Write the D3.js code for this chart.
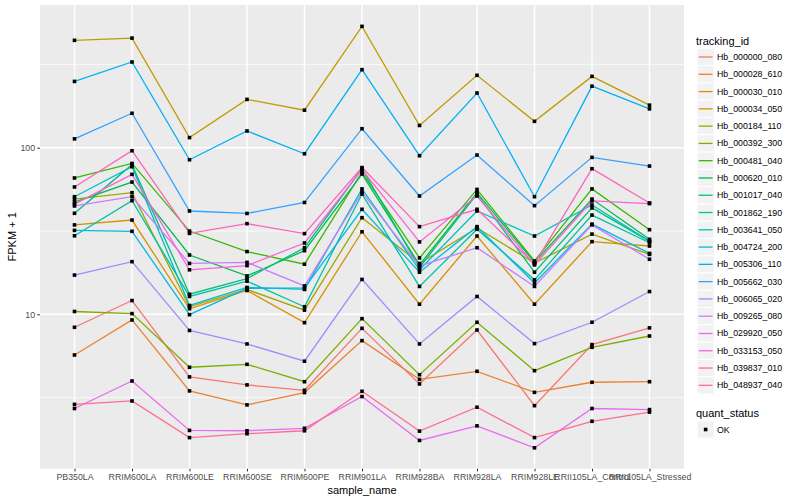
<!DOCTYPE html>
<html>
<head>
<meta charset="utf-8">
<script src="https://cdn.jsdelivr.net/npm/d3@7"></script>
<style>
  body { margin: 0; background: #fff; }
  svg { display: block; font-family: "Liberation Sans", Arial, sans-serif; }
</style>
</head>
<body>
<svg id="chart"></svg>
<script>
const categories = ["PB350LA", "RRIM600LA", "RRIM600LE", "RRIM600SE", "RRIM600PE", "RRIM901LA",
  "RRIM928BA", "RRIM928LA", "RRIM928LE", "RRII105LA_Control", "RRII105LA_Stressed"]

const trackingIds = ["Hb_000000_080", "Hb_000028_610", "Hb_000030_010", "Hb_000034_050", "Hb_000184_110",
  "Hb_000392_300", "Hb_000481_040", "Hb_000620_010", "Hb_001017_040", "Hb_001862_190",
  "Hb_003641_050", "Hb_004724_200", "Hb_005306_110", "Hb_005662_030", "Hb_006065_020",
  "Hb_009265_080", "Hb_029920_050", "Hb_033153_050", "Hb_039837_010", "Hb_048937_040"]

// FPKM + 1, one row per tracking id (same order), one value per sample
const fpkm = [
  [8.36, 12.1, 4.21, 3.77, 3.50, 8.24, 3.82, 8.05, 2.83, 6.58, 8.29],   // Hb_000000_080
  [5.70, 9.25, 3.47, 2.86, 3.39, 6.95, 4.07, 4.55, 3.40, 3.91, 3.94],   // Hb_000028_610
  [34.4, 36.8, 10.8, 13.9, 8.91, 31.3, 11.5, 29.5, 11.5, 27.3, 25.7],   // Hb_000030_010
  [441, 455, 115, 195, 168, 535, 136, 272, 144, 268, 180],              // Hb_000034_050
  [49.2, 53.7, 11.1, 14.1, 10.6, 38.0, 20.2, 33.0, 20.3, 30.3, 22.9],   // Hb_000184_110
  [10.4, 10.1, 4.81, 5.01, 3.94, 9.42, 4.34, 8.96, 4.59, 6.34, 7.41],   // Hb_000392_300
  [65.8, 80.5, 31.6, 23.8, 20.0, 71.4, 21.8, 56.2, 20.9, 56.6, 32.2],   // Hb_000481_040
  [47.2, 62.2, 22.7, 17.0, 24.1, 69.5, 19.8, 53.7, 20.5, 49.2, 28.2],   // Hb_000620_010
  [40.4, 79.1, 13.2, 16.4, 25.1, 75.0, 19.1, 52.7, 17.9, 43.5, 27.4],   // Hb_001017_040
  [29.6, 48.1, 12.8, 15.8, 11.1, 52.7, 14.7, 32.4, 16.1, 39.4, 26.9],   // Hb_001862_190
  [50.8, 76.9, 11.3, 14.5, 14.1, 56.6, 18.5, 41.7, 29.5, 45.3, 27.5],   // Hb_003641_050
  [31.9, 31.5, 9.95, 14.3, 14.4, 42.7, 17.9, 33.6, 15.4, 34.8, 23.2],   // Hb_004724_200
  [250, 327, 84.7, 126, 92, 294, 89.5, 213, 50.8, 234, 171],            // Hb_005306_110
  [113, 161, 41.7, 40.3, 46.9, 130, 51.3, 90.4, 44.9, 87.5, 77.6],      // Hb_005662_030
  [17.2, 20.7, 8.0, 6.64, 5.23, 16.2, 6.64, 12.8, 6.67, 8.96, 13.7],    // Hb_006065_020
  [44.7, 50.8, 20.2, 20.5, 14.8, 54.2, 19.5, 25.1, 14.7, 34.4, 21.4],   // Hb_009265_080
  [2.72, 3.98, 2.01, 2.00, 2.07, 3.21, 1.75, 2.14, 1.58, 2.72, 2.68],   // Hb_029920_050
  [45.9, 69.2, 18.5, 19.6, 26.8, 74.0, 27.2, 51.3, 19.8, 47.9, 46.2],   // Hb_033153_050
  [58.1, 95.9, 30.6, 35.0, 30.5, 76.0, 33.6, 42.7, 20.1, 74.8, 46.6],   // Hb_039837_010
  [2.88, 3.02, 1.82, 1.92, 2.00, 3.45, 1.99, 2.77, 1.82, 2.28, 2.59]    // Hb_048937_040
]

const yTicks = [10, 100]
const yMinor = [Math.pow(10, 0.5), Math.pow(10, 1.5), Math.pow(10, 2.5)]
const quantStatus = ["OK"]

// ggplot default hue palette for 20 groups
const palette = ["#F8766D", "#EA8331", "#D89000", "#C09B00", "#A3A500", "#7CAE00", "#39B600",
  "#00BB4E", "#00BF7D", "#00C1A3", "#00BFC4", "#00BAE0", "#00B0F6", "#35A2FF", "#9590FF",
  "#C77CFF", "#E76BF3", "#FA62DB", "#FF62BC", "#FF6C91"]

const w = 800
const h = 500
const panel = { left: 40, right: 684, top: 5, bottom: 468.7 }

const svg = d3.select("#chart")
  .attr("width", w)
  .attr("height", h)

// scales
const x = d3.scalePoint()
  .domain(categories)
  .range([panel.left, panel.right])
  .padding(0.6)

const y = d3.scaleLog()
  .domain([1.184, 718.7])
  .range([panel.bottom, panel.top])

const color = d3.scaleOrdinal().domain(trackingIds).range(palette)

// panel + grid
svg.append("rect")
  .attr("x", panel.left).attr("y", panel.top)
  .attr("width", panel.right - panel.left)
  .attr("height", panel.bottom - panel.top)
  .attr("fill", "#EBEBEB")

const grid = svg.append("g").attr("stroke", "#fff")
grid.selectAll(".minor")
  .data(yMinor)
  .join("line")
  .attr("x1", panel.left).attr("x2", panel.right)
  .attr("y1", d => y(d)).attr("y2", d => y(d))
  .attr("stroke-width", 0.7)
grid.selectAll(".hmaj")
  .data(yTicks)
  .join("line")
  .attr("x1", panel.left).attr("x2", panel.right)
  .attr("y1", d => y(d)).attr("y2", d => y(d))
  .attr("stroke-width", 1.4)
grid.selectAll(".vmaj")
  .data(categories)
  .join("line")
  .attr("y1", panel.top).attr("y2", panel.bottom)
  .attr("x1", d => x(d)).attr("x2", d => x(d))
  .attr("stroke-width", 1.4)

// lines
const line = d3.line()
  .x((d, i) => x(categories[i]))
  .y(d => y(d))

svg.append("g")
  .selectAll("path")
  .data(fpkm)
  .join("path")
  .attr("d", d => line(d))
  .attr("fill", "none")
  .attr("stroke", (d, i) => color(trackingIds[i]))
  .attr("stroke-width", 1.3)

// points
const pts = fpkm.flatMap(row => row.map((v, i) => ({ cat: categories[i], v })))
const ps = 3.6
svg.append("g")
  .selectAll("rect")
  .data(pts)
  .join("rect")
  .attr("x", d => x(d.cat) - ps / 2)
  .attr("y", d => y(d.v) - ps / 2)
  .attr("width", ps)
  .attr("height", ps)
  .attr("fill", "#000")

// axes
const xAxis = d3.axisBottom(x).tickSize(2.7).tickPadding(2.2)
const yAxis = d3.axisLeft(y).tickValues(yTicks).tickFormat(d3.format("d")).tickSize(2.7).tickPadding(2.2)

const gx = svg.append("g")
  .attr("transform", `translate(0, ${panel.bottom})`)
  .call(xAxis)
const gy = svg.append("g")
  .attr("transform", `translate(${panel.left}, 0)`)
  .call(yAxis)

for (const g of [gx, gy]) {
  g.select(".domain").remove()
  g.selectAll(".tick line").attr("stroke", "#333333").attr("stroke-width", 1)
  g.selectAll(".tick text")
    .attr("fill", "#4D4D4D")
    .style("font-size", "8.8px")
    .style("font-family", "'Liberation Sans', Arial, sans-serif")
}

// axis titles
svg.append("text")
  .attr("x", (panel.left + panel.right) / 2)
  .attr("y", 494)
  .attr("text-anchor", "middle")
  .style("font-size", "11px")
  .text("sample_name")

svg.append("text")
  .attr("transform", `translate(16, ${(panel.top + panel.bottom) / 2}) rotate(-90)`)
  .attr("text-anchor", "middle")
  .style("font-size", "11px")
  .text("FPKM + 1")

// legend: tracking_id
const lg = svg.append("g")
const keyX = 697
const keyS = 17.28
const firstKey = 57

lg.append("text")
  .attr("x", 696).attr("y", 40.7)
  .attr("dominant-baseline", "central")
  .style("font-size", "11px")
  .text("tracking_id")

const items = lg.selectAll(".item")
  .data(trackingIds)
  .join("g")
  .attr("transform", (d, i) => `translate(${keyX}, ${firstKey + i * keyS})`)

items.append("rect")
  .attr("x", 0).attr("y", -keyS / 2)
  .attr("width", keyS).attr("height", keyS)
  .attr("fill", "#F2F2F2").attr("stroke", "#fff")
items.append("line")
  .attr("x1", 1.7).attr("x2", keyS - 1.7)
  .attr("stroke", d => color(d))
  .attr("stroke-width", 1.3)
items.append("text")
  .attr("x", 20).attr("y", 0)
  .attr("dominant-baseline", "central")
  .style("font-size", "8.8px")
  .text(d => d)

// legend: quant_status
lg.append("text")
  .attr("x", 696).attr("y", 412.7)
  .attr("dominant-baseline", "central")
  .style("font-size", "11px")
  .text("quant_status")

const qs = lg.selectAll(".qs")
  .data(quantStatus)
  .join("g")
  .attr("transform", (d, i) => `translate(${keyX}, ${429.5 + i * keyS})`)
qs.append("rect")
  .attr("x", 0).attr("y", -keyS / 2)
  .attr("width", keyS).attr("height", keyS)
  .attr("fill", "#F2F2F2").attr("stroke", "#fff")
qs.append("rect")
  .attr("x", keyS / 2 - ps / 2).attr("y", -ps / 2)
  .attr("width", ps).attr("height", ps)
  .attr("fill", "#000")
qs.append("text")
  .attr("x", 20).attr("y", 0)
  .attr("dominant-baseline", "central")
  .style("font-size", "8.8px")
  .text(d => d)
</script>
</body>
</html>
